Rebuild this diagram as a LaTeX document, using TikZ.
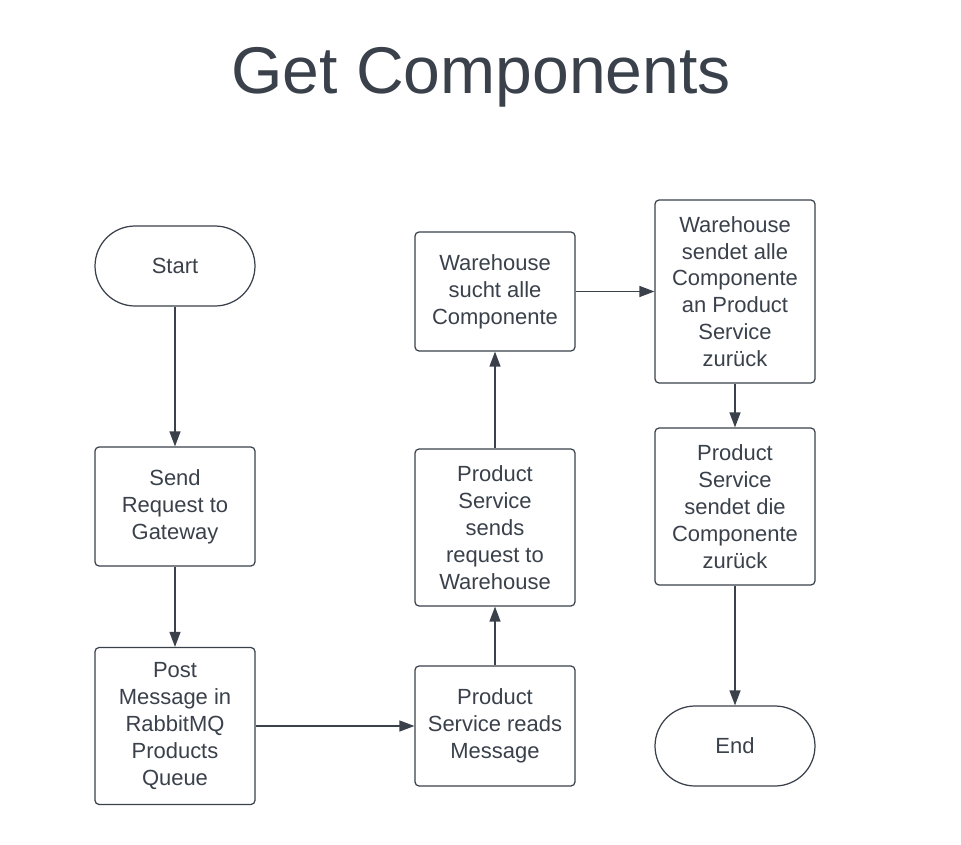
\documentclass[tikz,border=0pt]{standalone}
\usepackage{fontspec}
\setmainfont{Liberation Sans}
\usepackage{tikz}
\usetikzlibrary{arrows.meta,positioning}
\definecolor{Ink}{HTML}{3A414B}
\tikzset{
  flow/.style={
    draw=Ink, text=Ink, rounded corners=2.3pt, line width=.7pt,
    fill=white, align=center, minimum width=3.2cm,
    inner sep=0pt, font=\fontsize{12.5}{15.3}\selectfont
  },
  term/.style={flow,rounded corners=.8cm,minimum height=1.6cm},
  arr/.style={-{Triangle[length=3mm,width=2.2mm]},line width=.7pt,draw=Ink},
  heading/.style={text=Ink,font=\fontsize{37.6}{45}\selectfont,inner sep=0pt}
}
\begin{document}
\begin{tikzpicture}[x=0.02cm,y=-0.02cm]
  \fill[white] (0,0) rectangle (961,845);
  \useasboundingbox (0,0) rectangle (961,845);
  \node[heading,anchor=base] (title) at (481,93) {Get Components};
  % left column
  \node[term] (start) at (175,266) {Start};
  \node[flow,minimum height=2.38cm] (send) at (175,506.5) {Send\\Request to\\Gateway};
  \node[flow,minimum height=3.14cm] (post) at (175,726) {Post\\Message in\\RabbitMQ\\Products\\Queue};
  % middle column
  \node[flow,minimum height=2.4cm] (reads) at (495,726) {Product\\Service reads\\Message};
  \node[flow,minimum height=3.14cm] (sends) at (495,527.5) {Product\\Service\\sends\\request to\\Warehouse};
  \node[flow,minimum height=2.38cm] (sucht) at (495,291.5) {Warehouse\\sucht alle\\Componente};
  % right column
  \node[flow,minimum height=3.66cm] (retour) at (735,291.5) {Warehouse\\sendet alle\\Componente\\an Product\\Service\\zurück};
  \node[flow,minimum height=3.14cm] (answer) at (735,506.5) {Product\\Service\\sendet die\\Componente\\zurück};
  \node[term] (end) at (735,746) {End};
  \draw[arr] (start)--(send);
  \draw[arr] (send)--(post);
  \draw[arr] (post)--(reads);
  \draw[arr] (reads)--(sends);
  \draw[arr] (sends)--(sucht);
  \draw[arr] (sucht)--(retour);
  \draw[arr] (retour)--(answer);
  \draw[arr] (answer)--(end);
\end{tikzpicture}
\end{document}
